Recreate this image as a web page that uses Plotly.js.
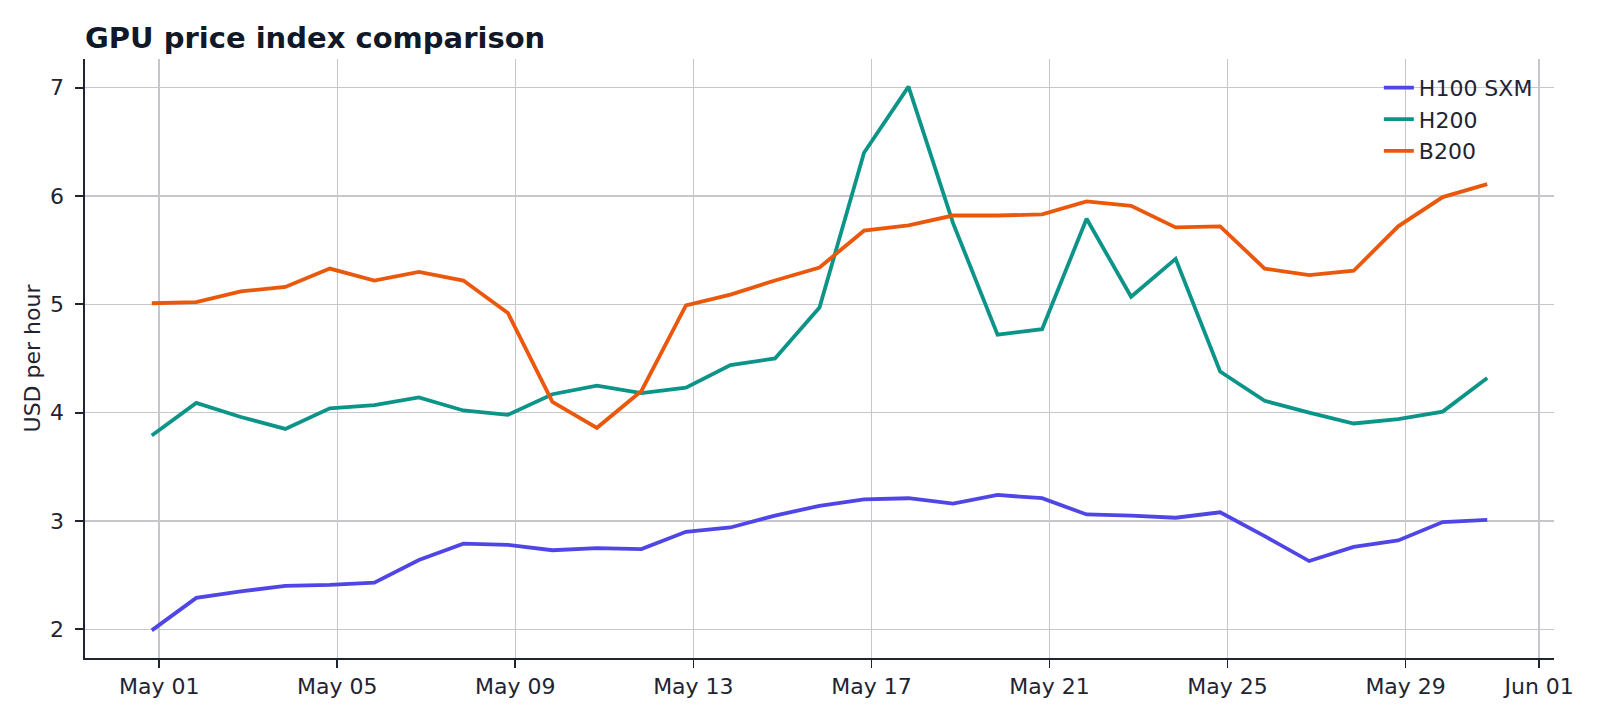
<!DOCTYPE html>
<html>
<head>
<meta charset="utf-8">
<script src="https://cdn.plot.ly/plotly-3.0.1.min.js"></script>
<style>
  html, body { margin: 0; padding: 0; background: #ffffff; }
  #chart { width: 1600px; height: 720px; }
</style>
</head>
<body>
<div id="chart"></div>
<script>
// daily samples, stamped at 20:00 local (shows just left of each day tick)
var days = [
    "2024-04-30 20:00", "2024-05-01 20:00", "2024-05-02 20:00", "2024-05-03 20:00",
    "2024-05-04 20:00", "2024-05-05 20:00", "2024-05-06 20:00", "2024-05-07 20:00",
    "2024-05-08 20:00", "2024-05-09 20:00", "2024-05-10 20:00", "2024-05-11 20:00",
    "2024-05-12 20:00", "2024-05-13 20:00", "2024-05-14 20:00", "2024-05-15 20:00",
    "2024-05-16 20:00", "2024-05-17 20:00", "2024-05-18 20:00", "2024-05-19 20:00",
    "2024-05-20 20:00", "2024-05-21 20:00", "2024-05-22 20:00", "2024-05-23 20:00",
    "2024-05-24 20:00", "2024-05-25 20:00", "2024-05-26 20:00", "2024-05-27 20:00",
    "2024-05-28 20:00", "2024-05-29 20:00", "2024-05-30 20:00"
];

var h100 = [1.99, 2.29, 2.35, 2.40, 2.41, 2.43, 2.64, 2.79, 2.78, 2.73, 2.75, 2.74,
            2.90, 2.94, 3.05, 3.14, 3.20, 3.21, 3.16, 3.24, 3.21, 3.06, 3.05, 3.03,
            3.08, 2.86, 2.63, 2.76, 2.82, 2.99, 3.01];
var h200 = [3.79, 4.09, 3.96, 3.85, 4.04, 4.07, 4.14, 4.02, 3.98, 4.17, 4.25, 4.18,
            4.23, 4.44, 4.50, 4.97, 6.40, 7.01, 5.75, 4.72, 4.77, 5.79, 5.07, 5.42,
            4.38, 4.11, 4.00, 3.90, 3.94, 4.01, 4.32];
var b200 = [5.01, 5.02, 5.12, 5.16, 5.33, 5.22, 5.30, 5.22, 4.92, 4.10, 3.86, 4.20,
            4.99, 5.09, 5.22, 5.34, 5.68, 5.73, 5.82, 5.82, 5.83, 5.95, 5.91, 5.71,
            5.72, 5.33, 5.27, 5.31, 5.72, 5.99, 6.11];

var seriesNames = ["H100 SXM", "H200", "B200"];
var seriesColors = ["#4f46e5", "#0d9488", "#ea580c"];

var tickDays = ["2024-05-01", "2024-05-05", "2024-05-09", "2024-05-13", "2024-05-17",
                "2024-05-21", "2024-05-25", "2024-05-29", "2024-06-01"];
var tickLabels = ["May 01", "May 05", "May 09", "May 13", "May 17",
                  "May 21", "May 25", "May 29", "Jun 01"];

var FONT = "DejaVu Sans, Verdana, sans-serif";
var INK = "#1f2433";
var GRID = "#c6c6cb";

function line(name, ys, color) {
    return {
        type: "scatter",
        mode: "lines",
        name: name,
        x: days,
        y: ys,
        line: { color: color, width: 3.8 },
        hoverinfo: "skip"
    };
}

var traces = [
    line(seriesNames[0], h100, seriesColors[0]),
    line(seriesNames[1], h200, seriesColors[1]),
    line(seriesNames[2], b200, seriesColors[2])
];

var layout = {
    width: 1600,
    height: 720,
    paper_bgcolor: "#ffffff",
    plot_bgcolor: "#ffffff",
    margin: { l: 85, r: 46, t: 59, b: 62 },
    font: { family: FONT, size: 22, color: INK },
    title: {
        text: "<b>GPU price index comparison</b>",
        font: { family: FONT, size: 29, color: "#111827" },
        x: 0, xref: "paper", xanchor: "left",
        y: 1, yref: "container", yanchor: "top",
        pad: { t: 28 }
    },
    showlegend: true,
    legend: {
        x: 0.989, xanchor: "right", y: 0.987, yanchor: "top",
        bgcolor: "rgba(0,0,0,0)",
        font: { family: FONT, size: 22, color: INK },
        tracegroupgap: 0
    },
    xaxis: {
        type: "date",
        range: ["2024-04-29 08:00", "2024-06-01 08:00"],
        tickmode: "array",
        tickvals: tickDays,
        ticktext: tickLabels,
        showgrid: true, gridcolor: GRID, gridwidth: 1.4,
        showline: true, linecolor: INK, linewidth: 1.7,
        ticks: "outside", ticklen: 8, tickwidth: 1.7, tickcolor: INK,
        zeroline: false,
        tickfont: { family: FONT, size: 22, color: INK }
    },
    yaxis: {
        range: [1.735, 7.265],
        tickmode: "linear", tick0: 2, dtick: 1,
        showgrid: true, gridcolor: GRID, gridwidth: 1.4,
        showline: true, linecolor: INK, linewidth: 1.7,
        ticks: "outside", ticklen: 8, tickwidth: 1.7, tickcolor: INK,
        ticklabelstandoff: 7,
        zeroline: false,
        tickfont: { family: FONT, size: 22, color: INK },
        title: { text: "USD per hour", font: { family: FONT, size: 22, color: INK }, standoff: 3 }
    }
};

Plotly.newPlot("chart", traces, layout, { displayModeBar: false, staticPlot: true });
</script>
</body>
</html>
